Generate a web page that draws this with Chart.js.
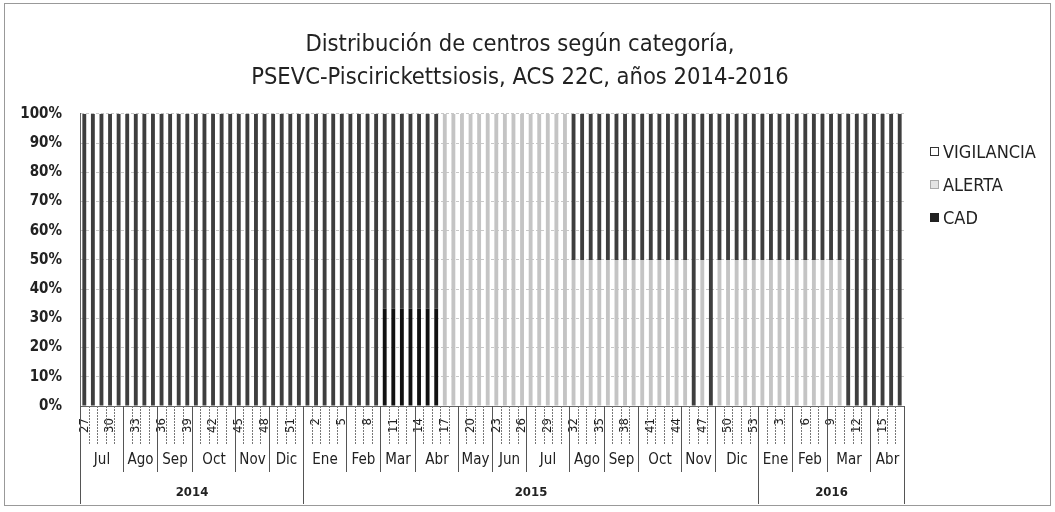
<!DOCTYPE html>
<html>
<head>
<meta charset="utf-8">
<script src="https://cdn.jsdelivr.net/npm/chart.js@4.4.1/dist/chart.umd.min.js"></script>
<style>
  html, body { margin: 0; padding: 0; background: #fff; }
</style>
</head>
<body>
<canvas id="chart" width="1055" height="512"></canvas>
<script>
// week numbers per year
const weeks2014 = ['27','28','29','30','31','32','33','34','35','36','37','38','39','40','41','42','43','44','45','46','47','48','49','50','51','52'];
const weeks2015 = ['1','2','3','4','5','6','7','8','9','10','11','12','13','14','15','16','17','18','19','20','21','22','23','24','25','26','27','28','29','30','31','32','33','34','35','36','37','38','39','40','41','42','43','44','45','46','47','48','49','50','51','52','53'];
const weeks2016 = ['1','2','3','4','5','6','7','8','9','10','11','12','13','14','15','16','17'];

// month groups (name, number of weeks)
const months = [
  ['Jul',5],['Ago',4],['Sep',4],['Oct',5],['Nov',4],['Dic',4],
  ['Ene',5],['Feb',4],['Mar',4],['Abr',5],['May',4],['Jun',4],['Jul',5],['Ago',4],['Sep',4],['Oct',5],['Nov',4],['Dic',5],
  ['Ene',4],['Feb',4],['Mar',5],['Abr',4]
];
const years = [['2014',26],['2015',53],['2016',17]];

// % of centres per category
const cad = [
  0,0,0,0,0,0,0,0,0,0,0,0,0,0,0,0,0,0,0,0,0,0,0,0,0,0,
  0,0,0,0,0,0,0,0,0,33.3,33.3,33.3,33.3,33.3,33.3,33.3,0,0,0,0,0,0,0,0,0,0,0,0,0,0,0,
  0,0,0,0,0,0,0,0,0,0,0,0,0,0,0,0,0,0,0,0,0,0,
  0,0,0,0,0,0,0,0,0,0,0,0,0,0,0,0,0
];
const alerta = [
  0,0,0,0,0,0,0,0,0,0,0,0,0,0,0,0,0,0,0,0,0,0,0,0,0,0,
  0,0,0,0,0,0,0,0,0,0,0,0,0,0,0,0,100,100,100,100,100,100,100,100,100,100,100,100,100,100,100,
  50,50,50,50,50,50,50,50,50,50,50,50,50,50,0,50,0,50,50,50,50,50,
  50,50,50,50,50,50,50,50,50,50,0,0,0,0,0,0,0
];
const vigilancia = [
  100,100,100,100,100,100,100,100,100,100,100,100,100,100,100,100,100,100,100,100,100,100,100,100,100,100,
  100,100,100,100,100,100,100,100,100,66.7,66.7,66.7,66.7,66.7,66.7,66.7,0,0,0,0,0,0,0,0,0,0,0,0,0,0,0,
  50,50,50,50,50,50,50,50,50,50,50,50,50,50,100,50,100,50,50,50,50,50,
  50,50,50,50,50,50,50,50,50,50,100,100,100,100,100,100,100
];

const labels = weeks2014.concat(weeks2015, weeks2016);
const ink = '#222';
const narrow = "'Liberation Sans Narrow', 'DejaVu Sans Condensed', sans-serif";

// month / year rows under the week labels
const axisGroups = {
  id: 'axisGroups',
  afterDraw(chart) {
    const x = chart.scales.x;
    const c = chart.ctx;
    const step = x.getPixelForValue(1) - x.getPixelForValue(0);
    const edge = i => Math.round(x.getPixelForValue(i) - step / 2) + 0.5;
    const top = x.top;
    const line = (px, y2) => { c.beginPath(); c.moveTo(px, top); c.lineTo(px, y2); c.stroke(); };
    c.save();
    c.strokeStyle = '#777';
    c.lineWidth = 1;
    c.fillStyle = ink;
    c.textAlign = 'center';
    c.textBaseline = 'middle';
    c.setLineDash([2, 1]);
    for (let i = 0; i <= labels.length; i++) line(edge(i), top + 39);
    c.setLineDash([]);
    c.strokeStyle = '#555';

    c.font = '15px ' + narrow;
    let i = 0;
    months.forEach(([name, n]) => {
      line(edge(i), top + 66);
      c.fillText(name, (edge(i) + edge(i + n)) / 2, top + 54);
      i += n;
    });
    line(edge(i), top + 66);

    c.font = 'bold 13px ' + narrow;
    i = 0;
    years.forEach(([name, n]) => {
      line(edge(i), top + 98);
      c.fillText(name, (edge(i) + edge(i + n)) / 2, top + 87);
      i += n;
    });
    line(edge(i), top + 98);
    c.restore();
  }
};

// legend on the right, top item = top of stack
const sideLegend = {
  id: 'sideLegend',
  afterDraw(chart) {
    const c = chart.ctx;
    const lx = chart.chartArea.right + 26;
    const items = [
      ['VIGILANCIA', 152, '#fff', '#333'],
      ['ALERTA', 185, '#e4e4e4', '#aaa'],
      ['CAD', 218, '#222', '#222']
    ];
    c.save();
    c.font = '18px ' + narrow;
    c.textBaseline = 'middle';
    items.forEach(([name, y, fill, stroke]) => {
      c.fillStyle = fill;
      c.fillRect(lx, y - 5, 9, 9);
      c.strokeStyle = stroke;
      c.strokeRect(lx + 0.5, y - 4.5, 8, 8);
      c.fillStyle = ink;
      c.fillText(name, lx + 13, y + 1);
    });
    c.restore();
  }
};

// thin frame round the whole chart
const frame = {
  id: 'frame',
  afterDraw(chart) {
    const c = chart.ctx;
    c.save();
    c.strokeStyle = '#999';
    c.lineWidth = 1;
    c.strokeRect(4.5, 3.5, 1046, 502);
    c.restore();
  }
};

const ctx = document.getElementById('chart');
new Chart(ctx, {
  type: 'bar',
  data: {
    labels: labels,
    datasets: [
      { label: 'CAD', data: cad, backgroundColor: '#111' },
      { label: 'ALERTA', data: alerta, backgroundColor: '#c4c4c4' },
      { label: 'VIGILANCIA', data: vigilancia, backgroundColor: '#3e3e3e' }
    ]
  },
  options: {
    responsive: false,
    animation: false,
    datasets: { bar: { barPercentage: 0.45, categoryPercentage: 1 } },
    layout: { padding: { left: 8, right: 23, top: 21, bottom: 6 } },
    plugins: {
      legend: { display: false },
      tooltip: { enabled: false },
      title: {
        display: true,
        text: ['Distribución de centros según categoría,', 'PSEVC-Piscirickettsiosis, ACS 22C, años 2014-2016'],
        color: ink,
        font: { family: narrow, size: 23.5, weight: 'normal', lineHeight: 1.38 },
        padding: { top: 8, bottom: 20 }
      }
    },
    scales: {
      x: {
        stacked: true,
        grid: { display: false },
        border: { color: '#666' },
        ticks: {
          autoSkip: false,
          minRotation: 90,
          maxRotation: 90,
          padding: 4,
          color: ink,
          font: { family: narrow, size: 13 },
          callback: function (v, i) { return i % 3 === 0 ? this.getLabelForValue(v) : ''; }
        },
        afterFit: s => { s.height = 100; }
      },
      y: {
        stacked: true,
        min: 0,
        max: 100,
        ticks: {
          stepSize: 10,
          padding: 18,
          color: ink,
          font: { family: narrow, size: 15, weight: 'bold' },
          callback: v => v + '%'
        },
        grid: { color: '#c8c8c8', drawTicks: false },
        border: { color: '#666', dash: [3, 2] },
        afterFit: s => { s.width = 72; }
      },
      // empty right-hand axis that keeps room for the legend
      side: {
        position: 'right',
        display: true,
        grid: { display: false },
        border: { display: false },
        ticks: { display: false },
        afterFit: s => { s.width = 128; }
      }
    }
  },
  plugins: [axisGroups, sideLegend, frame]
});
</script>
</body>
</html>
